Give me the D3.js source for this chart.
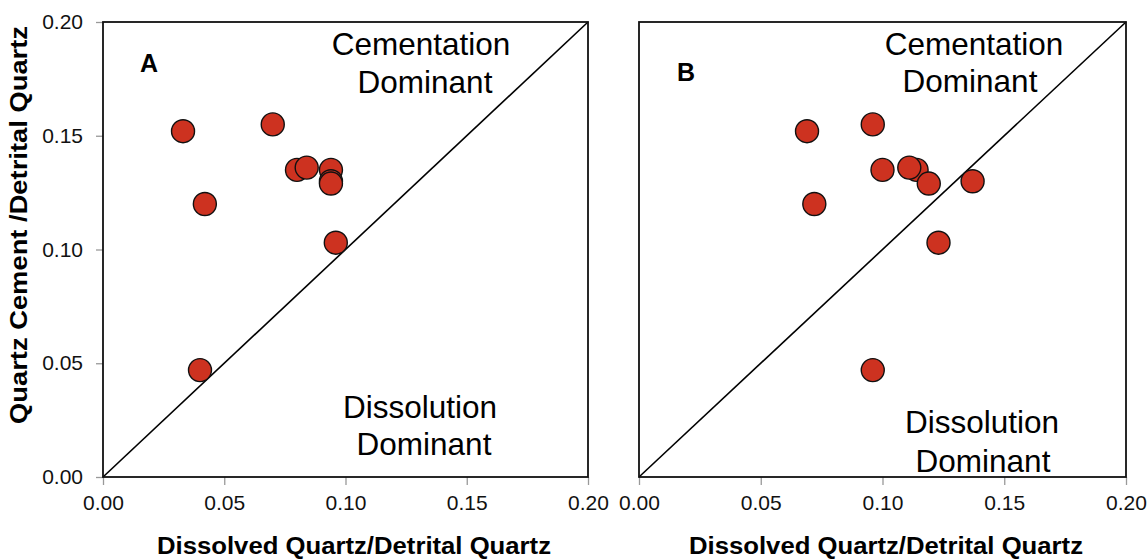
<!DOCTYPE html>
<html>
<head>
<meta charset="utf-8">
<script src="https://cdn.jsdelivr.net/npm/d3@7"></script>
<style>
  html, body { margin: 0; padding: 0; background: #fff; }
  svg { display: block; font-family: "Liberation Sans", Arial, Helvetica, sans-serif; }
</style>
</head>
<body>
<svg id="chart" width="1148" height="560"></svg>
<script>
// Quartz cement vs. dissolved quartz, both normalised to detrital quartz
const cementRatio = [0.152, 0.155, 0.135, 0.135, 0.136, 0.130, 0.129, 0.120, 0.103, 0.047];
const dissolvedA  = [0.033, 0.070, 0.080, 0.094, 0.084, 0.094, 0.094, 0.042, 0.096, 0.040];
const dissolvedB  = [0.069, 0.096, 0.100, 0.114, 0.111, 0.137, 0.119, 0.072, 0.123, 0.096];
const tickValues  = [0.00, 0.05, 0.10, 0.15, 0.20];
const panelLabels = ["A", "B"];
const xTitle = "Dissolved Quartz/Detrital Quartz";
const yTitle = "Quartz Cement /Detrital Quartz";

const svg = d3.select("#chart");
const fmt = d3.format(".2f");

const panels = [
  { label: panelLabels[0], xs: dissolvedA, left: 103, right: 588, yTicks: true,
    letter: [140, 72], cem: [421, 425], dis: [420, 424], cemY: [55, 93], disY: [418, 455], titleX: 354 },
  { label: panelLabels[1], xs: dissolvedB, left: 639, right: 1126, yTicks: false,
    letter: [677, 81], cem: [974, 970], dis: [982, 983], cemY: [55, 92], disY: [433, 472], titleX: 886 }
];
const plotTop = 22, plotBottom = 477;

panels.forEach(p => {
  const x = d3.scaleLinear().domain([0, 0.2]).range([p.left, p.right]);
  const y = d3.scaleLinear().domain([0, 0.2]).range([plotBottom, plotTop]);
  const g = svg.append("g");

  // x axis ticks and labels
  const xa = g.append("g").attr("transform", `translate(0,${plotBottom})`)
    .call(d3.axisBottom(x).tickValues(tickValues).tickFormat(fmt).tickSize(8).tickPadding(10));
  xa.select(".domain").remove();
  xa.selectAll("line").attr("stroke", "#999").attr("stroke-width", 1.3);
  xa.selectAll("text").attr("font-size", 21).attr("fill", "#111")
    .attr("font-family", "Liberation Sans, Arial, sans-serif");

  if (p.yTicks) {
    const ya = g.append("g").attr("transform", `translate(${p.left},0)`)
      .call(d3.axisLeft(y).tickValues(tickValues).tickFormat(fmt).tickSize(7).tickPadding(13));
    ya.select(".domain").remove();
    ya.selectAll("line").attr("stroke", "#999").attr("stroke-width", 1.3);
    ya.selectAll("text").attr("font-size", 21).attr("fill", "#111")
      .attr("font-family", "Liberation Sans, Arial, sans-serif");
  }

  // 1:1 line
  g.append("line")
    .attr("x1", x(0)).attr("y1", y(0)).attr("x2", x(0.2)).attr("y2", y(0.2))
    .attr("stroke", "#000").attr("stroke-width", 1.6);

  // frame
  g.append("rect")
    .attr("x", x(0)).attr("y", y(0.2))
    .attr("width", x(0.2) - x(0)).attr("height", y(0) - y(0.2))
    .attr("fill", "none").attr("stroke", "#111").attr("stroke-width", 1.8);

  // region labels
  const lbl = (tx, ty, s) => g.append("text").attr("x", tx).attr("y", ty)
    .attr("text-anchor", "middle").attr("font-size", 31.5).attr("fill", "#000").text(s);
  lbl(p.cem[0], p.cemY[0], "Cementation");
  lbl(p.cem[1], p.cemY[1], "Dominant");
  lbl(p.dis[0], p.disY[0], "Dissolution");
  lbl(p.dis[1], p.disY[1], "Dominant");

  // panel letter
  g.append("text").attr("x", p.letter[0]).attr("y", p.letter[1])
    .attr("font-size", 25).attr("font-weight", "bold").text(p.label);

  // samples
  g.selectAll("circle.pt").data(p.xs.map((v, i) => [v, cementRatio[i]]))
    .join("circle").attr("class", "pt")
    .attr("cx", d => x(d[0])).attr("cy", d => y(d[1])).attr("r", 11.5)
    .attr("fill", "#cd3220").attr("stroke", "#111").attr("stroke-width", 1.4);

  // x axis title
  g.append("text").attr("x", p.titleX).attr("y", 554)
    .attr("text-anchor", "middle").attr("font-size", 23).attr("font-weight", "bold")
    .attr("textLength", 394).attr("lengthAdjust", "spacingAndGlyphs")
    .text(xTitle);
});

// y axis title
svg.append("text")
  .attr("transform", "translate(27,225) rotate(-90)")
  .attr("text-anchor", "middle").attr("font-size", 23).attr("font-weight", "bold")
  .attr("textLength", 398).attr("lengthAdjust", "spacingAndGlyphs")
  .text(yTitle);
</script>
</body>
</html>
